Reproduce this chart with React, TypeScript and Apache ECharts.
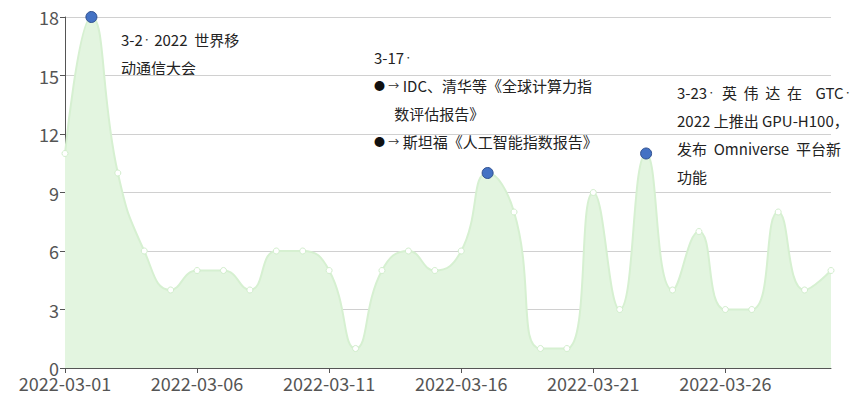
import React, { useEffect, useRef } from "react";
import * as echarts from "echarts";

const dates = [
  "2022-03-01", "2022-03-02", "2022-03-03", "2022-03-04", "2022-03-05",
  "2022-03-06", "2022-03-07", "2022-03-08", "2022-03-09", "2022-03-10",
  "2022-03-11", "2022-03-12", "2022-03-13", "2022-03-14", "2022-03-15",
  "2022-03-16", "2022-03-17", "2022-03-18", "2022-03-19", "2022-03-20",
  "2022-03-21", "2022-03-22", "2022-03-23", "2022-03-24", "2022-03-25",
  "2022-03-26", "2022-03-27", "2022-03-28", "2022-03-29", "2022-03-30",
];
const values = [11, 18, 10, 6, 4, 5, 5, 4, 6, 6, 5, 1, 5, 6, 5, 6, 10, 8, 1, 1, 9, 3, 11, 4, 7, 3, 3, 8, 4, 5];
const highlighted = ["2022-03-02", "2022-03-17", "2022-03-23"];

const FONT = "'Noto Sans CJK SC', 'Noto Sans', sans-serif";

export default function App() {
  const ref = useRef<HTMLDivElement>(null);
  useEffect(() => {
    if (!ref.current) return;
    const chart = echarts.init(ref.current, null, { renderer: "svg" });
    const rich = {
      d: { fontSize: 8, fill: "#333", fontFamily: FONT, lineHeight: 28 },
      b: { fontSize: 11, fill: "#111", fontFamily: FONT, lineHeight: 28 },
      a: { fontSize: 11, fill: "#333", fontFamily: FONT, lineHeight: 28 },
    };
    const textStyle = { fontSize: 15, fill: "#222", fontFamily: FONT, lineHeight: 28, rich };
    chart.setOption({
      animation: false,
      grid: { left: 57, right: 27, top: 5, bottom: 38 },
      xAxis: {
        type: "category",
        data: dates,
        boundaryGap: false,
        axisLine: { lineStyle: { color: "#555" } },
        axisTick: { interval: 4, lineStyle: { color: "#555" } },
        axisLabel: { interval: 4, fontSize: 18, color: "#555", fontFamily: FONT, margin: 6 },
      },
      yAxis: {
        type: "value",
        min: 0,
        max: 18,
        interval: 3,
        axisLine: { show: true, lineStyle: { color: "#555" } },
        axisTick: { show: true, lineStyle: { color: "#555" } },
        axisLabel: { fontSize: 18, color: "#555", fontFamily: FONT, margin: 6 },
        splitLine: { lineStyle: { color: "#d0d0d0" } },
      },
      series: [
        {
          type: "line",
          data: values,
          smooth: true,
          symbol: "circle",
          symbolSize: 6,
          itemStyle: { color: "#ffffff", borderColor: "#d2eecd", borderWidth: 1 },
          lineStyle: { color: "#d6f0d1", width: 2 },
          areaStyle: { color: "#e3f5e0", opacity: 1 },
          markPoint: {
            symbol: "circle",
            symbolSize: 11,
            label: { show: false },
            itemStyle: { color: "#4472c4", borderColor: "#2e4f8f", borderWidth: 1 },
            data: highlighted.map((d) => ({ coord: [d, values[dates.indexOf(d)]] })),
          },
        },
      ],
      graphic: [
        {
          type: "text",
          left: 113,
          top: 17,
          style: { ...textStyle, text: "3-2{d|·} 2022  世界移\n动通信大会" },
        },
        {
          type: "text",
          left: 366,
          top: 35,
          style: {
            ...textStyle,
            text: "3-17{d|·}\n{b|●} {a|→} IDC、清华等《全球计算力指\n      数评估报告》\n{b|●} {a|→} 斯坦福《人工智能指数报告》",
          },
        },
        {
          type: "text",
          left: 669,
          top: 70,
          style: {
            ...textStyle,
            text: "3-23{d|·}  英  伟  达  在    GTC{d|·}\n2022 上推出 GPU-H100，\n发布  Omniverse  平台新\n功能",
          },
        },
      ],
    });
    return () => chart.dispose();
  }, []);
  return <div ref={ref} style={{ width: 850, height: 398 }} />;
}
